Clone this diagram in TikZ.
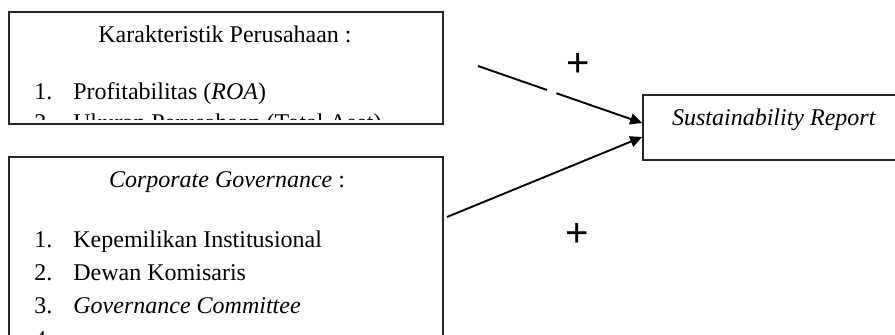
\documentclass[tikz,border=0pt]{standalone}
\usepackage{fontspec}
\setmainfont{Liberation Serif}
\newfontfamily\plusfont{Liberation Sans}
\usetikzlibrary{arrows.meta}
\begin{document}
\begin{tikzpicture}[x=0.5pt,y=-0.5pt,
  box/.style={draw=black!85,line width=0.85pt,rectangle,inner sep=0pt},
  txt/.style={font=\fontsize{12}{14}\selectfont,inner sep=0pt,anchor=base west},
  ctxt/.style={font=\fontsize{12}{14}\selectfont,inner sep=0pt,anchor=base},
  plus/.style={font=\plusfont\fontsize{20}{24}\selectfont,inner sep=0pt},
  link/.style={line width=0.95pt,-{Triangle[length=6pt,width=5.5pt]}}]
\useasboundingbox (0,0) rectangle (895,335);
\clip (0,0) rectangle (895,335);
% boxes
\node[box,minimum width=217pt,minimum height=56pt] (kp) at (226,68) {};
\node[box,minimum width=217pt,minimum height=110pt] (cg) at (226,267) {};
\node[box,minimum width=131pt,minimum height=32.5pt] (sr) at (774,127.5) {};
% texts of the first box (clipped as in the reference)
\begin{scope}
\clip (kp.north west) rectangle ([yshift=2.5pt]kp.south east);
\node[ctxt] (kpt) at (225,43) {Karakteristik Perusahaan :};
\node[txt] (kn1) at (34,100) {1.};
\node[txt] (kl1) at (73,100) {Profitabilitas (\textit{ROA})};
\node[txt] (kn2) at (34,131) {2.};
\node[txt] (kl2) at (73,131) {Ukuran Perusahaan (Total Aset)};
\end{scope}
% texts of the second box
\node[ctxt] (cgt) at (227,188) {\textit{Corporate Governance} :};
\node[txt] (cn1) at (34,248) {1.};
\node[txt] (cl1) at (73,248) {Kepemilikan Institusional};
\node[txt] (cn2) at (34,281) {2.};
\node[txt] (cl2) at (73,281) {Dewan Komisaris};
\node[txt] (cn3) at (34,314) {3.};
\node[txt] (cl3) at (73,314) {\textit{Governance Committee}};
\node[txt] (cn4) at (34,348) {4.};
% result box text
\node[ctxt] (srt) at (774,126) {\textit{Sustainability Report}};
% connectors
\coordinate (s1) at (478,66);
\coordinate (s2) at (447,217);
\draw[link,dash pattern=on 36.5pt off 5pt on 200pt] (s1) -- ([yshift=2.25pt]sr.west);
\draw[link] (s2) -- ([yshift=-4.75pt]sr.west);
\node[plus] (p1) at (578,65) {+};
\node[plus] (p2) at (577,235) {+};
\end{tikzpicture}
\end{document}
